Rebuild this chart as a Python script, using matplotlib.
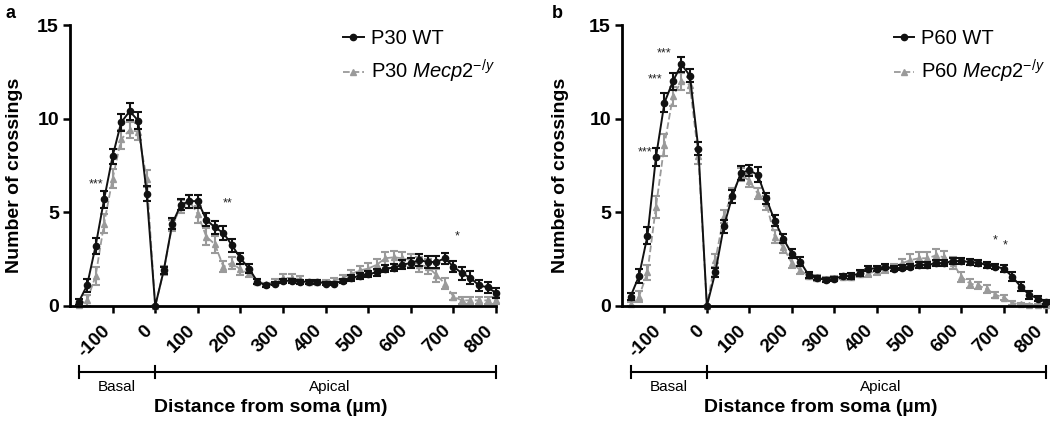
import matplotlib
matplotlib.use('Agg')
import matplotlib.pyplot as plt
import matplotlib.transforms as mtransforms
from matplotlib.lines import Line2D

plt.rcParams['font.family'] = ['Liberation Sans', 'DejaVu Sans']
plt.rcParams['mathtext.fontset'] = 'custom'
plt.rcParams['mathtext.rm'] = 'Liberation Sans'
plt.rcParams['mathtext.it'] = 'Liberation Sans:italic'

# distance from soma (um), basal negative
distance = [-180, -160, -140, -120, -100, -80, -60, -40, -20, 0,
            20, 40, 60, 80, 100, 120, 140, 160, 180, 200,
            220, 240, 260, 280, 300, 320, 340, 360, 380, 400,
            420, 440, 460, 480, 500, 520, 540, 560, 580, 600,
            620, 640, 660, 680, 700, 720, 740, 760, 780, 800]

# panel a: P30
p30_wt = [0.2, 1.1, 3.2, 5.7, 8.0, 9.8, 10.4, 9.9, 6.0, 0,
          1.9, 4.4, 5.4, 5.6, 5.6, 4.6, 4.2, 3.9, 3.25, 2.55,
          2.0, 1.3, 1.1, 1.2, 1.35, 1.35, 1.3, 1.3, 1.3, 1.2,
          1.2, 1.35, 1.5, 1.6, 1.7, 1.8, 2.0, 2.05, 2.2, 2.3,
          2.45, 2.35, 2.35, 2.55, 2.1, 1.75, 1.5, 1.1, 1.0, 0.7]
p30_wt_err = [0.15, 0.35, 0.45, 0.45, 0.4, 0.45, 0.45, 0.45, 0.4, 0,
              0.2, 0.3, 0.3, 0.35, 0.35, 0.35, 0.35, 0.35, 0.35, 0.3,
              0.25, 0.15, 0.1, 0.1, 0.1, 0.1, 0.1, 0.1, 0.1, 0.1,
              0.1, 0.1, 0.15, 0.15, 0.15, 0.2, 0.2, 0.2, 0.25, 0.25,
              0.3, 0.3, 0.3, 0.3, 0.3, 0.35, 0.35, 0.3, 0.3, 0.25]
p30_ko = [0.05, 0.3, 1.6, 4.4, 6.8, 8.9, 9.4, 9.3, 6.8, 0,
          1.9, 4.3, 5.3, 5.6, 4.9, 3.7, 3.3, 2.1, 2.3, 1.95,
          1.75, 1.3, 1.15, 1.3, 1.5, 1.5, 1.45, 1.3, 1.3, 1.3,
          1.35, 1.5, 1.7, 1.9, 2.0, 2.2, 2.55, 2.6, 2.55, 2.45,
          2.2, 2.1, 1.65, 1.2, 0.5, 0.3, 0.3, 0.3, 0.3, 0.3]
p30_ko_err = [0.05, 0.3, 0.5, 0.5, 0.5, 0.5, 0.45, 0.45, 0.45, 0,
              0.25, 0.3, 0.35, 0.35, 0.45, 0.45, 0.45, 0.3, 0.3, 0.3,
              0.2, 0.15, 0.1, 0.15, 0.2, 0.2, 0.15, 0.1, 0.1, 0.1,
              0.15, 0.15, 0.2, 0.25, 0.3, 0.3, 0.35, 0.35, 0.35, 0.35,
              0.4, 0.4, 0.35, 0.3, 0.2, 0.2, 0.2, 0.2, 0.2, 0.2]

# panel b: P60
p60_wt = [0.5, 1.6, 3.75, 7.95, 10.85, 12.0, 12.9, 12.3, 8.4, 0,
          1.8, 4.25, 5.85, 7.1, 7.25, 7.0, 5.75, 4.55, 3.6, 2.8,
          2.37, 1.65, 1.48, 1.4, 1.45, 1.6, 1.6, 1.75, 2.0, 2.0,
          2.1, 2.0, 2.05, 2.1, 2.2, 2.2, 2.28, 2.3, 2.4, 2.4,
          2.35, 2.3, 2.2, 2.1, 2.0, 1.57, 1.03, 0.6, 0.4, 0.2]
p60_wt_err = [0.2, 0.35, 0.45, 0.5, 0.5, 0.45, 0.4, 0.35, 0.35, 0,
              0.25, 0.35, 0.35, 0.35, 0.3, 0.4, 0.3, 0.3, 0.25, 0.25,
              0.25, 0.15, 0.1, 0.1, 0.1, 0.1, 0.15, 0.15, 0.15, 0.15,
              0.15, 0.15, 0.15, 0.15, 0.15, 0.15, 0.15, 0.15, 0.15, 0.15,
              0.15, 0.15, 0.15, 0.15, 0.2, 0.25, 0.25, 0.2, 0.15, 0.1]
p60_ko = [0.1, 0.5, 1.8, 5.3, 8.6, 11.2, 12.0, 11.8, 8.0, 0,
          2.45, 4.8, 6.0, 7.0, 6.7, 6.0, 5.5, 3.7, 3.15, 2.3,
          1.92, 1.6, 1.5, 1.45, 1.5, 1.55, 1.55, 1.7, 1.75, 1.85,
          1.95, 2.05, 2.28, 2.45, 2.55, 2.55, 2.7, 2.6, 2.3, 1.55,
          1.2, 1.1, 0.9, 0.6, 0.45, 0.15, 0.1, 0.05, 0.05, 0.05]
p60_ko_err = [0.1, 0.3, 0.4, 0.6, 0.6, 0.5, 0.45, 0.45, 0.4, 0,
              0.35, 0.35, 0.3, 0.35, 0.35, 0.3, 0.35, 0.35, 0.3, 0.25,
              0.2, 0.15, 0.15, 0.1, 0.1, 0.1, 0.15, 0.15, 0.2, 0.2,
              0.2, 0.2, 0.25, 0.3, 0.35, 0.35, 0.35, 0.35, 0.3, 0.25,
              0.25, 0.2, 0.2, 0.15, 0.15, 0.1, 0.05, 0.05, 0.05, 0.05]

x_ticks = [-100, 0, 100, 200, 300, 400, 500, 600, 700, 800]
y_ticks = [0, 5, 10, 15]

# significance stars: (x, y, text)
stars_a = [(-140, 6.5, '***'), (170, 5.45, '**'), (708, 3.7, '*')]
stars_b = [(-101, 13.5, '***'), (-122, 12.1, '***'), (-146, 8.2, '***'),
           (680, 3.5, '*'), (704, 3.25, '*')]

wt_color = '#111111'
ko_color = '#9a9a9a'

fig = plt.figure(figsize=(10.5, 4.25), dpi=100)
ax_a = fig.add_axes([0.0667, 0.28, 0.4057, 0.661])
ax_b = fig.add_axes([0.5924, 0.28, 0.404, 0.661])


def draw_panel(ax, wt, wt_err, ko, ko_err, age, stars, xlab_x, ylab_x):
    ax.errorbar(distance, ko, yerr=ko_err, color=ko_color, ls='--', lw=1.3,
                marker='^', ms=5, capsize=3, elinewidth=1.5, capthick=1.5,
                clip_on=False, zorder=2)
    ax.errorbar(distance, wt, yerr=wt_err, color=wt_color, ls='-', lw=1.4,
                marker='o', ms=4.5, capsize=3, elinewidth=1.5, capthick=1.5,
                clip_on=False, zorder=3)

    ax.set_xlim(-200, 800)
    ax.set_ylim(0, 15)
    ax.set_xticks(x_ticks)
    ax.set_yticks(y_ticks)
    ax.set_xticklabels([str(t) for t in x_ticks], rotation=45, ha='right',
                       va='center', rotation_mode='anchor',
                       fontsize=13.5, fontweight='bold')
    ax.set_yticklabels([str(t) for t in y_ticks], fontsize=14, fontweight='bold')
    ax.tick_params(direction='out', length=5, width=1.8, pad=3)
    ax.tick_params(axis='x', pad=11)
    # nudge rotated labels left so their ends sit at the ticks
    shift = mtransforms.ScaledTranslation(-4 / 72, 0, fig.dpi_scale_trans)
    for lbl in ax.get_xticklabels():
        lbl.set_transform(lbl.get_transform() + shift)
    for side in ['top', 'right']:
        ax.spines[side].set_visible(False)
    for side in ['left', 'bottom']:
        ax.spines[side].set_linewidth(2)

    for sx, sy, s in stars:
        ax.text(sx, sy, s, ha='center', va='center', fontsize=9, color='#222222')

    handles = [Line2D([], [], color=wt_color, marker='o', ms=4.5, lw=1.4),
               Line2D([], [], color=ko_color, marker='^', ms=4.5, lw=1.3, ls='--')]
    labels = ['%s WT' % age, '%s $\\mathit{Mecp2}^{\\mathit{-/y}}$' % age]
    ax.legend(handles, labels, loc='upper left', bbox_to_anchor=(0.618, 1.022),
              frameon=False, borderpad=0, handlelength=1.0, handletextpad=0.35,
              labelspacing=0.5, fontsize=14.5)

    # basal / apical brackets
    trans = mtransforms.blended_transform_factory(ax.transData, ax.transAxes)
    ax.plot([-180, 800], [-0.235, -0.235], color='black', lw=1.5,
            transform=trans, clip_on=False)
    for bx in [-180, 0, 800]:
        ax.plot([bx, bx], [-0.213, -0.258], color='black', lw=1.5,
                transform=trans, clip_on=False)
    ax.text(-90, -0.29, 'Basal', transform=trans, ha='center', va='center',
            fontsize=11)
    ax.text(410, -0.29, 'Apical', transform=trans, ha='center', va='center',
            fontsize=11)

    ax.text(xlab_x, -0.36, 'Distance from soma (\u00b5m)', transform=ax.transAxes,
            ha='center', va='center', fontsize=14, fontweight='bold')
    ax.text(ylab_x, 0.466, 'Number of crossings', transform=ax.transAxes,
            rotation=90, ha='center', va='center', fontsize=14, fontweight='bold')


draw_panel(ax_a, p30_wt, p30_wt_err, p30_ko, p30_ko_err, 'P30', stars_a, 0.472, -0.131)
draw_panel(ax_b, p60_wt, p60_wt_err, p60_ko, p60_ko_err, 'P60', stars_b, 0.469, -0.144)

fig.text(5 / 1050, 1 - 13 / 425, 'a', fontsize=13, fontweight='bold', va='center')
fig.text(552 / 1050, 1 - 13 / 425, 'b', fontsize=13, fontweight='bold', va='center')

fig.savefig('out.png', dpi=100)
